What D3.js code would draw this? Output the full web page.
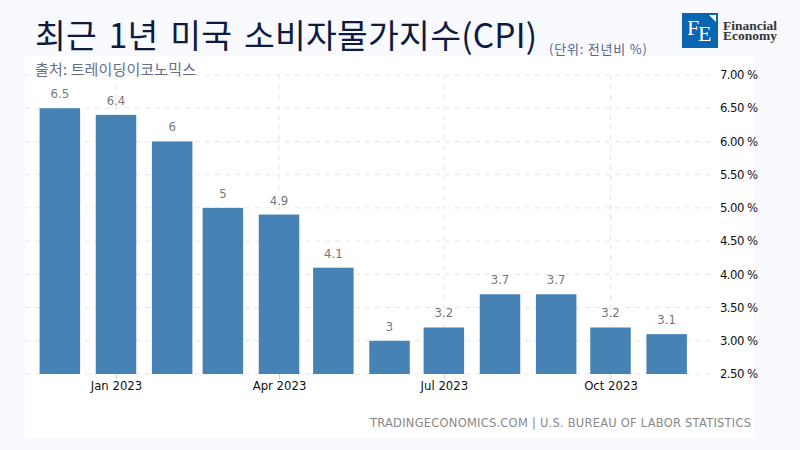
<!DOCTYPE html>
<html>
<head>
<meta charset="utf-8">
<script src="https://cdn.jsdelivr.net/npm/d3@7"></script>
<style>
  html, body { margin: 0; padding: 0; background: #f8faff; }
  svg { display: block; }
  text { font-family: "Noto Sans CJK KR", "Noto Sans", sans-serif; }
  .tick text { font-family: "DejaVu Sans", sans-serif; font-size: 11.7px; fill: #111; }
</style>
</head>
<body>
<script>
var months = ["2022-12-01", "2023-01-01", "2023-02-01", "2023-03-01", "2023-04-01", "2023-05-01",
              "2023-06-01", "2023-07-01", "2023-08-01", "2023-09-01", "2023-10-01", "2023-11-01"];
var cpiValues = [6.5, 6.4, 6, 5, 4.9, 4.1, 3, 3.2, 3.7, 3.7, 3.2, 3.1];
var xTicks = ["2023-01-01", "2023-04-01", "2023-07-01", "2023-10-01"];
var yTicks = [2.5, 3, 3.5, 4, 4.5, 5, 5.5, 6, 6.5, 7];

var parseDate = d3.utcParse("%Y-%m-%d");
var width = 800, height = 450;
var barWidth = 40.5;

var svg = d3.select("body").append("svg")
    .attr("width", width)
    .attr("height", height);

svg.append("rect")
    .attr("x", 25).attr("y", 56)
    .attr("width", 729).attr("height", 381)
    .attr("fill", "#fff");

// Jan 1 sits at 116px, Oct 1 at 610px
var x = d3.scaleUtc()
    .domain([parseDate("2023-01-01"), parseDate("2023-10-01")])
    .range([116, 610.5]);

var y = d3.scaleLinear()
    .domain([2.5, 7])
    .range([374, 75]);

var gridRight = 714;

// grid
svg.append("g").selectAll("line")
    .data(yTicks)
    .join("line")
    .attr("x1", 25).attr("x2", gridRight)
    .attr("y1", function(d) { return y(d); })
    .attr("y2", function(d) { return y(d); })
    .attr("stroke", "#e6e6e6")
    .attr("stroke-dasharray", "5,5");

svg.append("g").selectAll("line")
    .data(xTicks)
    .join("line")
    .attr("x1", function(d) { return x(parseDate(d)); })
    .attr("x2", function(d) { return x(parseDate(d)); })
    .attr("y1", 75).attr("y2", 374)
    .attr("stroke", "#e6e6e6")
    .attr("stroke-dasharray", "5,5");

// bars
svg.append("g").selectAll("rect")
    .data(months)
    .join("rect")
    .attr("x", function(d) { return x(parseDate(d)) - barWidth / 2; })
    .attr("y", function(d, i) { return y(cpiValues[i]); })
    .attr("width", barWidth)
    .attr("height", function(d, i) { return y(2.5) - y(cpiValues[i]); })
    .attr("fill", "#4682b4");

// value labels
svg.append("g").selectAll("text")
    .data(months)
    .join("text")
    .attr("x", function(d) { return x(parseDate(d)); })
    .attr("y", function(d, i) { return y(cpiValues[i]) - 10; })
    .attr("text-anchor", "middle")
    .style("font-family", "'DejaVu Sans', sans-serif")
    .attr("font-size", 11.7)
    .attr("fill", "#777")
    .text(function(d, i) { return cpiValues[i]; });

// axes
var xAxis = d3.axisBottom(x)
    .tickValues(xTicks.map(parseDate))
    .tickFormat(d3.utcFormat("%b %Y"))
    .tickSize(5)
    .tickPadding(3);

var xg = svg.append("g")
    .attr("transform", "translate(0,374)")
    .call(xAxis);
xg.select(".domain").remove();
xg.selectAll(".tick line").attr("stroke", "#ccc");

var yAxis = d3.axisRight(y)
    .tickValues(yTicks)
    .tickFormat(function(d) { return d3.format(".2f")(d) + " %"; })
    .tickSize(0)
    .tickPadding(0);

var yg = svg.append("g")
    .attr("transform", "translate(720,0)")
    .call(yAxis);
yg.select(".domain").remove();
yg.selectAll("text").attr("textLength", 38).attr("lengthAdjust", "spacing");

// titles
svg.append("text")
    .attr("x", 35).attr("y", 48)
    .attr("font-size", 33.5)
    .attr("fill", "#0e1a3f")
    .attr("word-spacing", 4)
    .attr("textLength", 502)
    .attr("lengthAdjust", "spacing")
    .text("최근 1년 미국 소비자물가지수(CPI)");

svg.append("text")
    .attr("x", 549).attr("y", 54)
    .attr("font-size", 13)
    .attr("fill", "#5a6488")
    .attr("textLength", 98)
    .attr("lengthAdjust", "spacing")
    .text("(단위: 전년비 %)");

svg.append("text")
    .attr("x", 35).attr("y", 75)
    .attr("font-size", 15)
    .attr("fill", "#666e88")
    .attr("textLength", 161)
    .attr("lengthAdjust", "spacing")
    .text("출처: 트레이딩이코노믹스");

svg.append("text")
    .attr("x", 370).attr("y", 427)
    .style("font-family", "'DejaVu Sans', sans-serif")
    .attr("font-size", 11.5)
    .attr("fill", "#888")
    .attr("textLength", 381)
    .attr("lengthAdjust", "spacing")
    .text("TRADINGECONOMICS.COM | U.S. BUREAU OF LABOR STATISTICS");

// logo
var logo = svg.append("g").attr("transform", "translate(682,13)");
logo.append("rect").attr("width", 36).attr("height", 35).attr("fill", "#0a66b0");
logo.append("path").attr("d", "M27,2H34V9Z").attr("fill", "#fff");
logo.append("text").attr("x", 5).attr("y", 22)
    .style("font-family", "'Liberation Serif', serif")
    .attr("font-size", 22).attr("fill", "#fff").text("F");
logo.append("text").attr("x", 16).attr("y", 28)
    .style("font-family", "'Liberation Serif', serif")
    .attr("font-size", 22).attr("fill", "#fff").text("E");
logo.append("text").attr("x", 41).attr("y", 17)
    .style("font-family", "'Liberation Serif', serif")
    .attr("font-size", 13.5).attr("font-weight", "bold").attr("fill", "#333").text("Financial");
logo.append("text").attr("x", 41).attr("y", 27)
    .style("font-family", "'Liberation Serif', serif")
    .attr("font-size", 13.5).attr("font-weight", "bold").attr("fill", "#333").text("Economy");
</script>
</body>
</html>
